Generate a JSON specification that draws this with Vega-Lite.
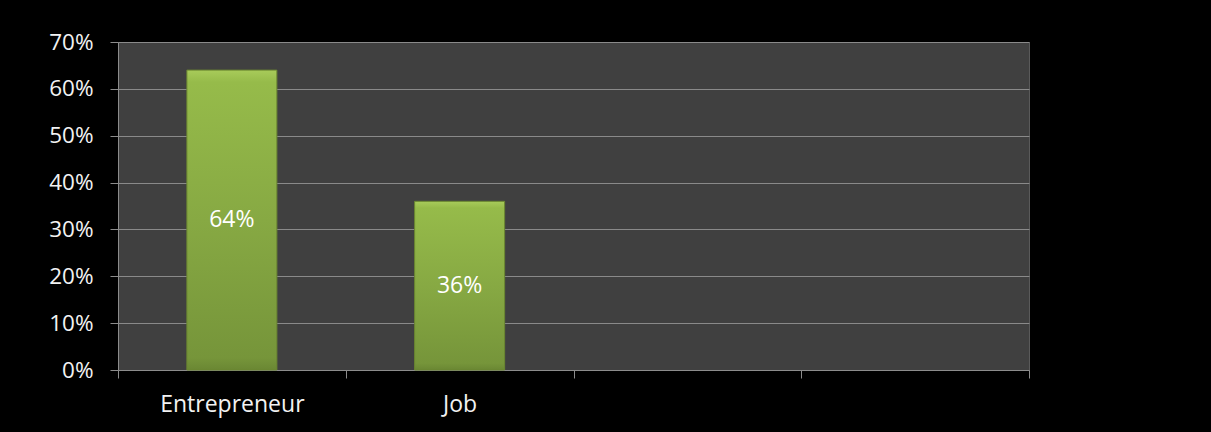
{
  "$schema": "https://vega.github.io/schema/vega-lite/v6.json",
  "autosize": {"type": "none"},
  "width": 911,
  "height": 328,
  "padding": {"left": 118, "top": 42, "right": 182, "bottom": 62},
  "background": "#000000",
  "config": {
    "view": {"fill": "#404040", "stroke": "#5a5a5a", "strokeWidth": 1},
    "font": "Open Sans"
  },
  "data": {
    "values": [
      {"choice": "Entrepreneur", "share": 0.64},
      {"choice": "Job", "share": 0.36}
    ]
  },
  "transform": [{"calculate": "datum.share / 2", "as": "mid"}],
  "encoding": {
    "x": {
      "field": "choice",
      "type": "nominal",
      "scale": {"domain": ["Entrepreneur", "Job", "c3", "c4"], "paddingInner": 0, "paddingOuter": 0},
      "axis": {
        "title": null,
        "labelAngle": 0,
        "tickBand": "extent",
        "labelExpr": "datum.label == 'c3' || datum.label == 'c4' ? '' : datum.label",
        "labelColor": "#f2f2f2",
        "labelFontSize": 23,
        "labelPadding": 15,
        "tickSize": 8,
        "tickColor": "#8c8c8c",
        "domainColor": "#8c8c8c",
        "grid": false
      }
    }
  },
  "layer": [
    {
      "mark": {
        "type": "bar",
        "size": 90,
        "color": {
          "gradient": "linear",
          "x1": 0, "y1": 0, "x2": 0, "y2": 1,
          "stops": [
            {"offset": 0, "color": "#a8cb5a"},
            {"offset": 0.04, "color": "#96bb4a"},
            {"offset": 0.5, "color": "#87a943"},
            {"offset": 0.96, "color": "#76953a"},
            {"offset": 1, "color": "#6a8733"}
          ]
        },
        "stroke": "#6a8630",
        "strokeWidth": 1
      },
      "encoding": {
        "y": {
          "field": "share",
          "type": "quantitative",
          "scale": {"domain": [0, 0.7], "nice": false},
          "axis": {
            "title": null,
            "format": ".0%",
            "values": [0, 0.1, 0.2, 0.3, 0.4, 0.5, 0.6, 0.7],
            "labelColor": "#f2f2f2",
            "labelFontSize": 22.5,
            "labelPadding": 17,
            "tickSize": 8,
            "tickColor": "#8c8c8c",
            "domainColor": "#8c8c8c",
            "gridColor": "#8a8a8a",
            "gridWidth": 1
          }
        }
      }
    },
    {
      "mark": {"type": "text", "color": "#ffffff", "fontSize": 23, "baseline": "middle"},
      "encoding": {
        "y": {"field": "mid", "type": "quantitative"},
        "text": {"field": "share", "type": "quantitative", "format": ".0%"}
      }
    }
  ]
}
